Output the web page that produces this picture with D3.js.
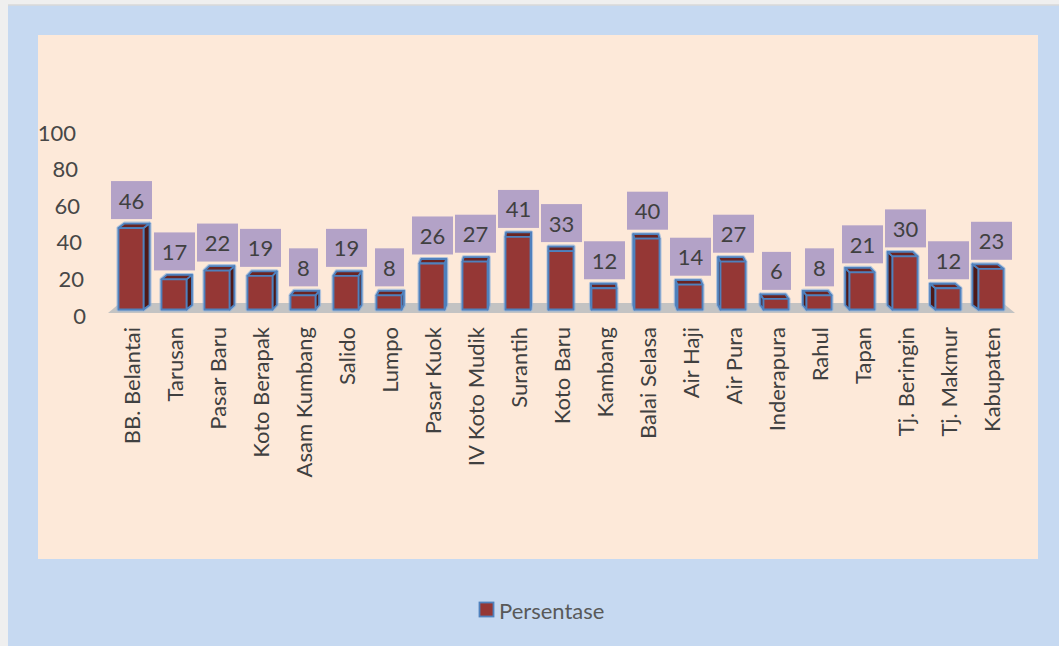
<!DOCTYPE html>
<html>
<head>
<meta charset="utf-8">
<script src="https://cdn.jsdelivr.net/npm/d3@7"></script>
<style>
	html, body { margin: 0; padding: 0; background: #eeeeee; }
	svg { display: block; font-family: Lato, "Open Sans", sans-serif; }
</style>
</head>
<body>
<svg></svg>
<script>

// DATA

var categories = ['BB. Belantai', 'Tarusan', 'Pasar Baru', 'Koto Berapak', 'Asam Kumbang', 'Salido',
	'Lumpo', 'Pasar Kuok', 'IV Koto Mudik', 'Surantih', 'Koto Baru', 'Kambang', 'Balai Selasa',
	'Air Haji', 'Air Pura', 'Inderapura', 'Rahul', 'Tapan', 'Tj. Beringin', 'Tj. Makmur', 'Kabupaten']
var values = [46, 17, 22, 19, 8, 19, 8, 26, 27, 41, 33, 12, 40, 14, 27, 6, 8, 21, 30, 12, 23]
var yTicks = [0, 20, 40, 60, 80, 100]
var seriesName = 'Persentase'

// vis variables
var width = 1059
var height = 646

var svg = d3.select("svg")
	.attr("width", width)
	.attr("height", height)

// frame
svg.append("rect")
	.attr("x", 0).attr("y", 0)
	.attr("width", width).attr("height", height)
	.attr("fill", "#efefef")

svg.append("rect")
	.attr("x", 8).attr("y", 5)
	.attr("width", width - 8).attr("height", height - 5)
	.attr("fill", "#c6d9f1")

svg.append("line")
	.attr("x1", 8).attr("x2", width)
	.attr("y1", 5).attr("y2", 5)
	.attr("stroke", "#d9d9d9")
	.attr("stroke-width", 1.5)

svg.append("rect")
	.attr("x", 38).attr("y", 35)
	.attr("width", 1000).attr("height", 524)
	.attr("fill", "#fde9d9")

// SCALES

var x = d3.scaleBand()
	.domain(categories)
	.range([109.5, 1012.5])

var yAxis = d3.scaleLinear().domain([0, 100]).range([315, 132])
// bars sit a bit behind the axis plane
var yBar = d3.scaleLinear().domain([0, 100]).range([309.5, 132.5])
// tick labels lean with the 3d wall
var tickX = d3.scaleLinear().domain([0, 100]).range([86, 76])

var vanishX = 561
var persp = 0.014
var depthY = -4.5
var barW = 25

// FLOOR

var fx0 = x.range()[0] - 1.5, fx1 = x.range()[1] + 2.5
svg.append("path")
	.attr("d", "M" + fx0 + "," + (yAxis(0) - 2) +
		"L" + fx1 + "," + (yAxis(0) - 2) +
		"L" + (fx1 - 12) + "," + (yAxis(0) - 12) +
		"L" + (fx0 + 12) + "," + (yAxis(0) - 12) + "Z")
	.attr("fill", "#c3c3c3")

// Y AXIS LABELS

svg.append("g")
	.selectAll("text")
	.data(yTicks)
	.enter()
	.append("text")
	.attr("x", function(d) { return tickX(d) })
	.attr("y", function(d) { return yAxis(d) })
	.attr("text-anchor", "end")
	.attr("dominant-baseline", "central")
	.attr("font-size", 22)
	.attr("fill", "#474747")
	.text(function(d) { return d })

// BARS

function barGeom(d, i) {
	var cx = x(categories[i]) + x.bandwidth() / 2
	var x0 = cx - barW / 2, x1 = cx + barW / 2
	var yt = yBar(d), yb = yBar(0)
	var dx = (vanishX - cx) * persp
	return { cx: cx, x0: x0, x1: x1, yt: yt, yb: yb, dx: dx }
}

function sidePath(g) {
	var xs = g.dx > 0 ? g.x1 : g.x0
	return "M" + xs + "," + g.yt +
		"L" + (xs + g.dx) + "," + (g.yt + depthY) +
		"L" + (xs + g.dx) + "," + (g.yb + depthY) +
		"L" + xs + "," + g.yb + "Z"
}

function topPath(g) {
	return "M" + g.x0 + "," + g.yt +
		"L" + g.x1 + "," + g.yt +
		"L" + (g.x1 + g.dx) + "," + (g.yt + depthY) +
		"L" + (g.x0 + g.dx) + "," + (g.yt + depthY) + "Z"
}

var bars = svg.append("g")
	.attr("class", "bars")
	.selectAll(".bar")
	.data(values)
	.enter()
	.append("g")
	.attr("class", "bar")
	.attr("stroke-linejoin", "round")

// soft glow
bars.append("path")
	.attr("d", function(d, i) {
		var g = barGeom(d, i)
		return sidePath(g) + topPath(g) +
			"M" + g.x0 + "," + g.yt + "H" + g.x1 + "V" + g.yb + "H" + g.x0 + "Z"
	})
	.attr("fill", "none")
	.attr("stroke", "#8eb0dc")
	.attr("stroke-width", 4)
	.attr("opacity", 0.7)

bars.append("path")
	.attr("d", function(d, i) { return sidePath(barGeom(d, i)) })
	.attr("fill", "#4e1918")
	.attr("stroke", "#4f81bd")
	.attr("stroke-width", 1.8)

bars.append("path")
	.attr("d", function(d, i) { return topPath(barGeom(d, i)) })
	.attr("fill", "#6a2422")
	.attr("stroke", "#4f81bd")
	.attr("stroke-width", 1.8)

bars.append("rect")
	.attr("x", function(d, i) { return barGeom(d, i).x0 })
	.attr("y", function(d) { return yBar(d) })
	.attr("width", barW)
	.attr("height", function(d) { return yBar(0) - yBar(d) })
	.attr("fill", "#953735")
	.attr("stroke", "#4f81bd")
	.attr("stroke-width", 1.8)

// DATA LABELS

var labels = svg.append("g")
	.attr("class", "labels")
	.selectAll(".label")
	.data(values)
	.enter()
	.append("g")
	.attr("class", "label")

labels.append("rect")
	.attr("x", function(d, i) {
		var w = String(d).length > 1 ? 41 : 29
		return barGeom(d, i).cx + 0.5 - w / 2
	})
	.attr("y", function(d) { return yBar(d) + depthY - 4.5 - 38 })
	.attr("width", function(d) { return String(d).length > 1 ? 41 : 29 })
	.attr("height", 38)
	.attr("fill", "#b3a2c7")

labels.append("text")
	.attr("x", function(d, i) { return barGeom(d, i).cx + 0.5 })
	.attr("y", function(d) { return yBar(d) + depthY - 4.5 - 19 })
	.attr("text-anchor", "middle")
	.attr("dominant-baseline", "central")
	.attr("font-size", 22)
	.attr("fill", "#404040")
	.text(function(d) { return d })

// X LABELS

svg.append("g")
	.selectAll("text")
	.data(categories)
	.enter()
	.append("text")
	.attr("transform", function(d) {
		return "translate(" + (x(d) + x.bandwidth() / 2) + ",327) rotate(-90)"
	})
	.attr("text-anchor", "end")
	.attr("dominant-baseline", "central")
	.attr("font-size", 22)
	.attr("fill", "#404040")
	.text(function(d) { return d })

// LEGEND

var legend = svg.append("g").attr("transform", "translate(479,602)")

legend.append("rect")
	.attr("x", 0.5).attr("y", 0.5)
	.attr("width", 14).attr("height", 14)
	.attr("fill", "#953735")
	.attr("stroke", "#4f81bd")
	.attr("stroke-width", 1.8)

legend.append("text")
	.attr("x", 20)
	.attr("y", 8)
	.attr("dominant-baseline", "central")
	.attr("font-size", 22)
	.attr("fill", "#595959")
	.text(seriesName)

</script>
</body>
</html>
